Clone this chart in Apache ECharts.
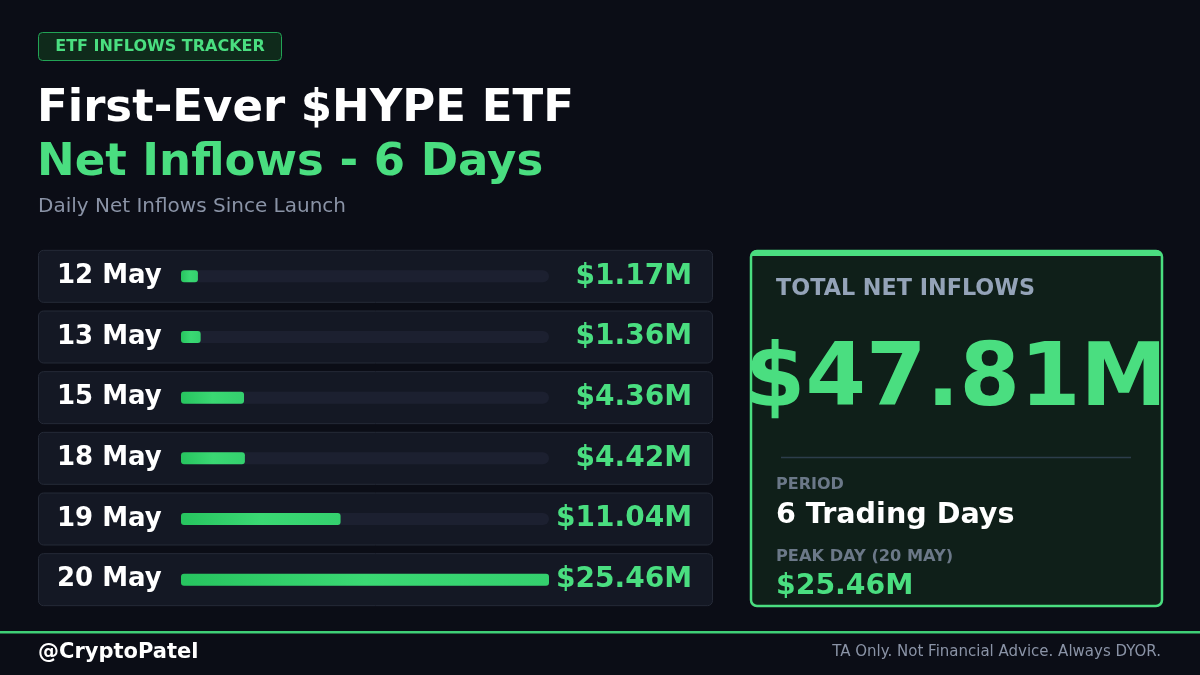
<!DOCTYPE html>
<html>
<head>
<meta charset="utf-8">
<script src="https://cdn.jsdelivr.net/npm/echarts@6/dist/echarts.min.js"></script>
<style>
html,body{margin:0;padding:0;background:#0b0d16;}
#c{width:1200px;height:675px;}
</style>
</head>
<body>
<div id="c"></div>
<script>
const categories = ['12 May','13 May','15 May','18 May','19 May','20 May'];
const inflows = [1.17, 1.36, 4.36, 4.42, 11.04, 25.46];
const peakLabel = '20 MAY';

const fmt = v => '$' + v.toFixed(2) + 'M';
const total = inflows.reduce((a,b)=>a+b,0);
const peak = Math.max.apply(null, inflows);

const FONT = '"DejaVu Sans", sans-serif';
const GREEN = '#4ade80';

const chart = echarts.init(document.getElementById('c'), null, {renderer:'canvas'});

chart.setOption({
  backgroundColor: '#0b0d16',
  animation: false,
  textStyle: { fontFamily: FONT },
  grid: { left: 181, right: 651, top: 246, height: 364 },
  xAxis: { type: 'value', min: 0, max: peak, show: false },
  yAxis: [
    { type: 'category', data: categories, inverse: true,
      axisLine:{show:false}, axisTick:{show:false},
      axisLabel: { align:'left', margin:124, color:'#ffffff', fontSize:26, fontWeight:'bold', fontFamily: FONT } },
    { type: 'category', data: inflows.map(fmt), inverse: true, position: 'right',
      axisLine:{show:false}, axisTick:{show:false},
      axisLabel: { align:'right', margin:143, color:GREEN, fontSize:28, fontWeight:'bold', fontFamily: FONT } }
  ],
  series: [
    { type: 'custom', z: 0, silent: true,
      data: inflows.map((v,i)=>[0,i]),
      encode: { x: 0, y: 1 },
      renderItem: function(params, api){
        const p = api.coord([0, api.value(1)]);
        return { type:'rect', shape:{ x:38.5, y:p[1]-26, width:674, height:52, r:5 },
          style:{ fill:'#141824', stroke:'#252a37', lineWidth:1 } };
      } },
    { type: 'bar', z: 2, data: inflows, barWidth: 12,
      showBackground: true,
      backgroundStyle: { color:'#1c2030', borderRadius:6 },
      itemStyle: { borderRadius:3,
        color: new echarts.graphic.LinearGradient(0,0,1,0,[{offset:0,color:'#27c45f'},{offset:0.5,color:'#3ad873'},{offset:1,color:'#34d06e'}]) } }
  ],
  graphic: [
    // badge
    { type:'rect', shape:{x:38.5,y:32.5,width:243,height:28,r:4}, style:{fill:'#0f2a1b', stroke:'#22a355', lineWidth:1} },
    { type:'text', x:160, y:47, style:{ text:'ETF INFLOWS TRACKER', fill:GREEN, font:'bold 16px '+FONT, align:'center', verticalAlign:'middle' } },
    // titles
    { type:'text', x:37, y:109, style:{ text:'First-Ever $HYPE ETF', fill:'#ffffff', font:'bold 45px '+FONT, verticalAlign:'middle' } },
    { type:'text', x:37, y:163, style:{ text:'Net Inflows - 6 Days', fill:GREEN, font:'bold 45px '+FONT, verticalAlign:'middle' } },
    { type:'text', x:38, y:207, style:{ text:'Daily Net Inflows Since Launch', fill:'#8a93a6', font:'20px '+FONT, verticalAlign:'middle' } },
    // card
    { type:'rect', shape:{x:751,y:251,width:411,height:355,r:6}, style:{fill:'#0f1f19', stroke:GREEN, lineWidth:2.5} },
    { type:'rect', shape:{x:751,y:250,width:411,height:6,r:[6,6,0,0]}, style:{fill:GREEN} },
    { type:'text', x:776, y:289, style:{ text:'TOTAL NET INFLOWS', fill:'#94a3b8', font:'bold 22.3px '+FONT, verticalAlign:'middle' } },
    { type:'text', x:956, y:382, style:{ text:fmt(total), fill:GREEN, font:'bold 87px '+FONT, align:'center', verticalAlign:'middle' } },
    { type:'line', shape:{x1:781,y1:457.5,x2:1131,y2:457.5}, style:{stroke:'#2c3d4b', lineWidth:1.5} },
    { type:'text', x:776, y:485, style:{ text:'PERIOD', fill:'#6b7888', font:'bold 16px '+FONT, verticalAlign:'middle' } },
    { type:'text', x:776, y:516, style:{ text:categories.length + ' Trading Days', fill:'#ffffff', font:'bold 28.6px '+FONT, verticalAlign:'middle' } },
    { type:'text', x:776, y:557, style:{ text:'PEAK DAY (' + peakLabel + ')', fill:'#6b7888', font:'bold 16.2px '+FONT, verticalAlign:'middle' } },
    { type:'text', x:776, y:587, style:{ text:fmt(peak), fill:GREEN, font:'bold 28.3px '+FONT, verticalAlign:'middle' } },
    // footer
    { type:'rect', shape:{x:0,y:631,width:1200,height:2.5}, style:{fill:'#3fcf76'} },
    { type:'text', x:38, y:653, style:{ text:'@CryptoPatel', fill:'#ffffff', font:'bold 21px '+FONT, verticalAlign:'middle' } },
    { type:'text', x:1161, y:652, style:{ text:'TA Only. Not Financial Advice. Always DYOR.', fill:'#8a93a6', font:'15px '+FONT, align:'right', verticalAlign:'middle' } }
  ]
});
</script>
</body>
</html>
